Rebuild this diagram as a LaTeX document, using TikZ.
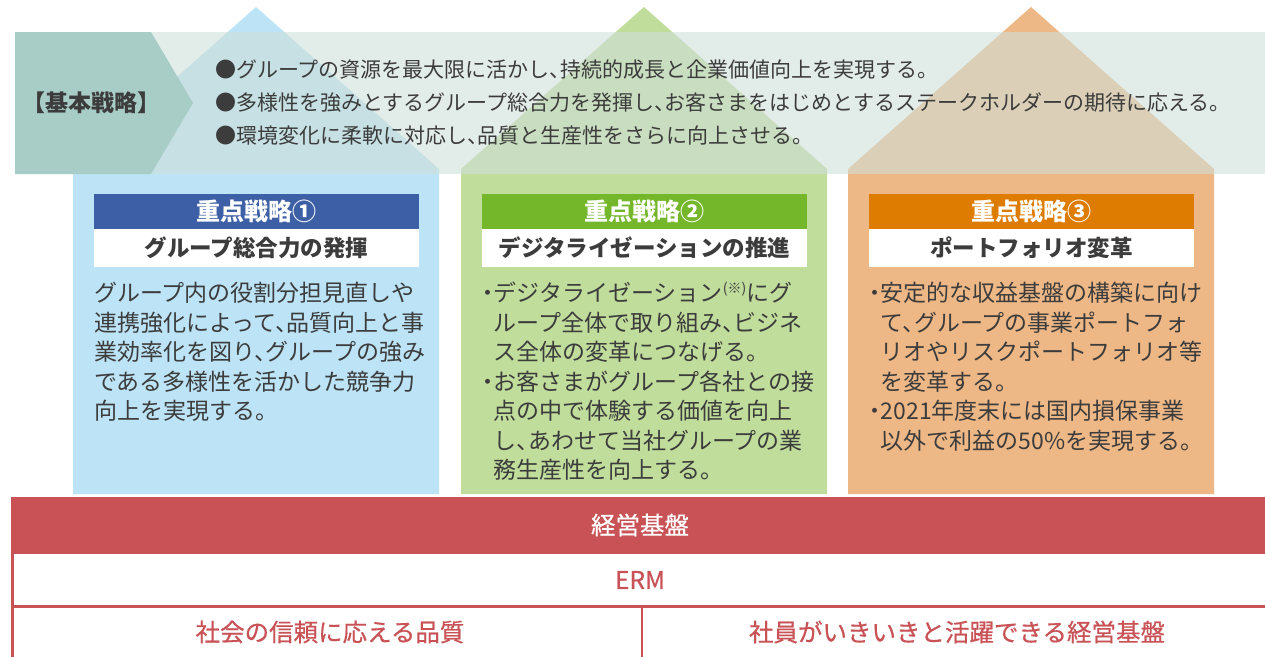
\documentclass[tikz,border=0pt]{standalone}
\usepackage{fontspec}
\setmainfont{Noto Sans CJK JP}[RawFeature=+halt]
\newfontfamily\medfont{Noto Sans CJK JP}[RawFeature=+halt, FakeBold=0.6]

\definecolor{housebl}{HTML}{BCE3F6}
\definecolor{housegr}{HTML}{C0DD9C}
\definecolor{houseor}{HTML}{EEB886}
\definecolor{bandc}{HTML}{CFDFD9}
\definecolor{arrowc}{HTML}{A8CCC6}
\definecolor{barbl}{HTML}{3D5FA6}
\definecolor{bargr}{HTML}{74B72A}
\definecolor{baror}{HTML}{DD7C00}
\definecolor{keieired}{HTML}{C85256}
\definecolor{txtgray}{HTML}{3C3C3C}

\newcommand{\indt}{\hspace*{11.5pt}}

\tikzset{
  bodytext/.style={anchor=north west, inner sep=0pt, align=left, text=txtgray,
    font=\fontsize{23}{29.5}\selectfont},
  titletext/.style={inner sep=0pt, text=white, font=\bfseries\fontsize{24}{24}\selectfont},
  subtext/.style={inner sep=0pt, text=txtgray, font=\bfseries\fontsize{22.5}{22.5}\selectfont},
  basetext/.style={inner sep=0pt, text=keieired, font=\medfont\fontsize{24.5}{24.5}\selectfont}
}

\begin{document}
\begin{tikzpicture}[x=1pt,y=-1pt]
\useasboundingbox (0,0) rectangle (1265,656);
\clip (0,0) rectangle (1265,656);

% houses
\foreach \x/\c in {73/housebl, 461/housegr, 848/houseor}
    \fill[\c] (\x,494) -- (\x,169) -- (\x+183,7) -- (\x+366,169) -- (\x+366,494) -- cycle;

% basic strategy band
\fill[bandc, fill opacity=0.6] (15,32) rectangle (1280,174);
\fill[arrowc] (15,32) -- (151,32) -- (193,103) -- (151,174) -- (15,174) -- cycle;
\node[inner sep=0pt, text=txtgray, font=\bfseries\fontsize{23}{23}\selectfont] (kihon) at (91,103) {【基本戦略】};
\node[anchor=west, inner sep=0pt, align=left, text=txtgray, font=\fontsize{21}{33}\selectfont] (kihonlist) at (215,103)
    {●グループの資源を最大限に活かし、持続的成長と企業価値向上を実現する。\\
     ●多様性を強みとするグループ総合力を発揮し、お客さまをはじめとするステークホルダーの期待に応える。\\
     ●環境変化に柔軟に対応し、品質と生産性をさらに向上させる。};

% key strategies
\foreach \x/\c/\n/\s [count=\i] in {73/barbl/①/グループ総合力の発揮,
                                    461/bargr/②/デジタライゼーションの推進,
                                    848/baror/③/ポートフォリオ変革}
{
    \fill[\c] (\x+21,194) rectangle (\x+346,229);
    \fill[white] (\x+21,229) rectangle (\x+346,267);
    \node[titletext] (title\i) at (\x+183.5,211.5) {重点戦略\n};
    \node[subtext] (sub\i) at (\x+183.5,248) {\s};
}

\node[bodytext] (body1) at (94,282)
    {グループ内の役割分担見直しや\\
     連携強化によって、品質向上と事\\
     業効率化を図り、グループの強み\\
     である多様性を活かした競争力\\
     向上を実現する。};
\node[bodytext] (body2) at (482,282)
    {・デジタライゼーション{\fontsize{14}{14}\selectfont\raisebox{8pt}{(※)}}にグ\\
     \indt ループ全体で取り組み、ビジネ\\
     \indt ス全体の変革につなげる。\\
     ・お客さまがグループ各社との接\\
     \indt 点の中で体験する価値を向上\\
     \indt し、あわせて当社グループの業\\
     \indt 務生産性を向上する。};
\node[bodytext] (body3) at (869,282)
    {・安定的な収益基盤の構築に向け\\
     \indt て、グループの事業ポートフォ\\
     \indt リオやリスクポートフォリオ等\\
     \indt を変革する。\\
     ・2021年度末には国内損保事業\\
     \indt 以外で利益の50\%を実現する。};

% management base
\fill[keieired] (11,497) rectangle (1280,554);
\node[basetext, text=white] (keiei) at (640,525) {経営基盤};
\draw[keieired, line width=2.5pt] (12.5,554) -- (12.5,660);
\draw[keieired, line width=3pt] (11,606) -- (1280,606);
\draw[keieired, line width=2.5pt] (642,606) -- (642,660);
\node[basetext] (erm) at (640,580) {ERM};
\node[basetext] (hinshitsu) at (330,632) {社会の信頼に応える品質};
\node[basetext] (kiban) at (957,632) {社員がいきいきと活躍できる経営基盤};

\end{tikzpicture}
\end{document}
